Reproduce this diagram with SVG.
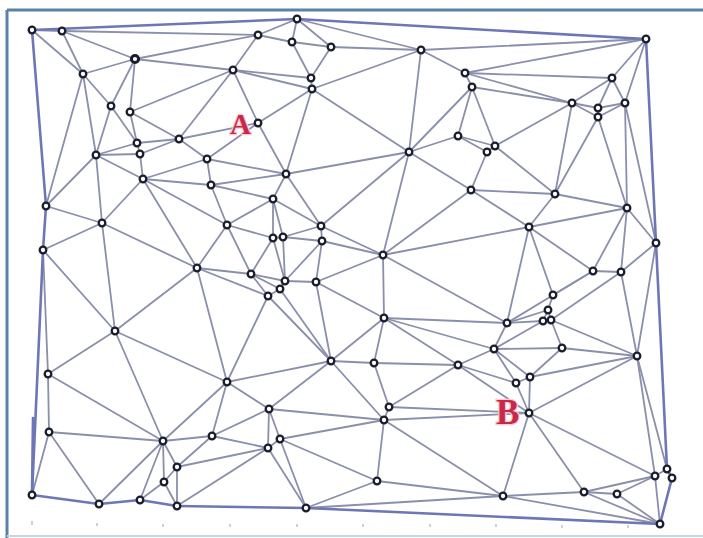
<svg xmlns="http://www.w3.org/2000/svg" width="703" height="538" viewBox="0 0 703 538">
<style>
.frame{stroke:#5b82a6;stroke-width:3;fill:none}
.framelight{stroke:#c3d6e6;stroke-width:2;fill:none}
.tick{stroke:#b0b0b8;stroke-width:1.2}
#connectors line{stroke:#8a8fab;stroke-width:1.8;stroke-linecap:round}
#border line{stroke:#6d76b6;stroke-width:2.6;stroke-linecap:round}
.node circle{fill:#ffffff;stroke:#1a1d2c;stroke-width:2.3}
.bold circle{stroke-width:3}
.lbl{font-family:"Liberation Serif","Times New Roman",serif;font-weight:bold;fill:#c8284a;stroke:#f6cdd6;stroke-width:2.5;paint-order:stroke}
</style>
<rect x="0" y="0" width="703" height="538" fill="#ffffff"/>
<g id="frame">
<line class="frame" x1="7" y1="10" x2="703" y2="10"/>
<line class="frame" x1="7" y1="10" x2="7" y2="538"/>
<line class="framelight" x1="7" y1="536" x2="703" y2="536"/>
</g>
<g id="ticks">
<line class="tick" x1="32" y1="521" x2="32" y2="525"/>
<line class="tick" x1="97" y1="523" x2="97" y2="526"/>
<line class="tick" x1="163" y1="524" x2="163" y2="527"/>
<line class="tick" x1="230" y1="524" x2="230" y2="527"/>
<line class="tick" x1="297" y1="524" x2="297" y2="527"/>
<line class="tick" x1="363" y1="524" x2="363" y2="527"/>
<line class="tick" x1="430" y1="524" x2="430" y2="527"/>
<line class="tick" x1="496" y1="524" x2="496" y2="527"/>
<line class="tick" x1="562" y1="525" x2="562" y2="528"/>
<line class="tick" x1="628" y1="525" x2="628" y2="528"/>
</g>
<g id="connectors">
<line x1="32" y1="30" x2="62" y2="31"/>
<line x1="32" y1="30" x2="83" y2="74"/>
<line x1="62" y1="31" x2="135" y2="59"/>
<line x1="62" y1="31" x2="83" y2="74"/>
<line x1="62" y1="31" x2="258" y2="35"/>
<line x1="135" y1="59" x2="83" y2="74"/>
<line x1="135" y1="59" x2="233" y2="70"/>
<line x1="135" y1="59" x2="111" y2="106"/>
<line x1="135" y1="59" x2="130" y2="112"/>
<line x1="135" y1="59" x2="258" y2="35"/>
<line x1="83" y1="74" x2="111" y2="106"/>
<line x1="83" y1="74" x2="96" y2="155"/>
<line x1="83" y1="74" x2="46" y2="206"/>
<line x1="233" y1="70" x2="130" y2="112"/>
<line x1="233" y1="70" x2="179" y2="139"/>
<line x1="233" y1="70" x2="258" y2="35"/>
<line x1="233" y1="70" x2="311" y2="78"/>
<line x1="233" y1="70" x2="312" y2="89"/>
<line x1="233" y1="70" x2="258" y2="123"/>
<line x1="111" y1="106" x2="137" y2="143"/>
<line x1="111" y1="106" x2="96" y2="155"/>
<line x1="130" y1="112" x2="179" y2="139"/>
<line x1="130" y1="112" x2="137" y2="143"/>
<line x1="179" y1="139" x2="137" y2="143"/>
<line x1="179" y1="139" x2="140" y2="154"/>
<line x1="179" y1="139" x2="207" y2="159"/>
<line x1="179" y1="139" x2="258" y2="123"/>
<line x1="137" y1="143" x2="140" y2="154"/>
<line x1="137" y1="143" x2="96" y2="155"/>
<line x1="140" y1="154" x2="96" y2="155"/>
<line x1="140" y1="154" x2="143" y2="179"/>
<line x1="96" y1="155" x2="143" y2="179"/>
<line x1="96" y1="155" x2="46" y2="206"/>
<line x1="96" y1="155" x2="102" y2="223"/>
<line x1="207" y1="159" x2="143" y2="179"/>
<line x1="207" y1="159" x2="211" y2="185"/>
<line x1="207" y1="159" x2="258" y2="123"/>
<line x1="207" y1="159" x2="286" y2="174"/>
<line x1="143" y1="179" x2="211" y2="185"/>
<line x1="143" y1="179" x2="102" y2="223"/>
<line x1="143" y1="179" x2="227" y2="225"/>
<line x1="143" y1="179" x2="197" y2="268"/>
<line x1="211" y1="185" x2="227" y2="225"/>
<line x1="211" y1="185" x2="273" y2="199"/>
<line x1="211" y1="185" x2="286" y2="174"/>
<line x1="297" y1="19" x2="258" y2="35"/>
<line x1="297" y1="19" x2="292" y2="42"/>
<line x1="297" y1="19" x2="331" y2="47"/>
<line x1="297" y1="19" x2="421" y2="50"/>
<line x1="258" y1="35" x2="292" y2="42"/>
<line x1="292" y1="42" x2="331" y2="47"/>
<line x1="292" y1="42" x2="311" y2="78"/>
<line x1="331" y1="47" x2="421" y2="50"/>
<line x1="331" y1="47" x2="311" y2="78"/>
<line x1="421" y1="50" x2="312" y2="89"/>
<line x1="421" y1="50" x2="409" y2="152"/>
<line x1="421" y1="50" x2="646" y2="39"/>
<line x1="421" y1="50" x2="465" y2="73"/>
<line x1="311" y1="78" x2="312" y2="89"/>
<line x1="312" y1="89" x2="258" y2="123"/>
<line x1="312" y1="89" x2="409" y2="152"/>
<line x1="312" y1="89" x2="286" y2="174"/>
<line x1="258" y1="123" x2="286" y2="174"/>
<line x1="458" y1="136" x2="409" y2="152"/>
<line x1="458" y1="136" x2="472" y2="87"/>
<line x1="458" y1="136" x2="495" y2="146"/>
<line x1="458" y1="136" x2="487" y2="152"/>
<line x1="409" y1="152" x2="286" y2="174"/>
<line x1="409" y1="152" x2="472" y2="87"/>
<line x1="409" y1="152" x2="471" y2="190"/>
<line x1="409" y1="152" x2="321" y2="226"/>
<line x1="409" y1="152" x2="383" y2="255"/>
<line x1="286" y1="174" x2="273" y2="199"/>
<line x1="286" y1="174" x2="321" y2="226"/>
<line x1="646" y1="39" x2="465" y2="73"/>
<line x1="646" y1="39" x2="612" y2="78"/>
<line x1="646" y1="39" x2="625" y2="103"/>
<line x1="465" y1="73" x2="472" y2="87"/>
<line x1="465" y1="73" x2="612" y2="78"/>
<line x1="465" y1="73" x2="572" y2="103"/>
<line x1="472" y1="87" x2="572" y2="103"/>
<line x1="472" y1="87" x2="495" y2="146"/>
<line x1="612" y1="78" x2="572" y2="103"/>
<line x1="612" y1="78" x2="598" y2="108"/>
<line x1="612" y1="78" x2="625" y2="103"/>
<line x1="572" y1="103" x2="598" y2="108"/>
<line x1="572" y1="103" x2="598" y2="117"/>
<line x1="572" y1="103" x2="495" y2="146"/>
<line x1="572" y1="103" x2="555" y2="194"/>
<line x1="598" y1="108" x2="598" y2="117"/>
<line x1="598" y1="108" x2="625" y2="103"/>
<line x1="598" y1="117" x2="625" y2="103"/>
<line x1="598" y1="117" x2="555" y2="194"/>
<line x1="598" y1="117" x2="627" y2="208"/>
<line x1="625" y1="103" x2="627" y2="208"/>
<line x1="625" y1="103" x2="656" y2="243"/>
<line x1="495" y1="146" x2="487" y2="152"/>
<line x1="495" y1="146" x2="555" y2="194"/>
<line x1="487" y1="152" x2="471" y2="190"/>
<line x1="46" y1="206" x2="102" y2="223"/>
<line x1="102" y1="223" x2="43" y2="250"/>
<line x1="102" y1="223" x2="197" y2="268"/>
<line x1="102" y1="223" x2="115" y2="331"/>
<line x1="227" y1="225" x2="197" y2="268"/>
<line x1="227" y1="225" x2="273" y2="199"/>
<line x1="227" y1="225" x2="273" y2="238"/>
<line x1="227" y1="225" x2="251" y2="274"/>
<line x1="43" y1="250" x2="115" y2="331"/>
<line x1="43" y1="250" x2="48" y2="374"/>
<line x1="197" y1="268" x2="115" y2="331"/>
<line x1="197" y1="268" x2="251" y2="274"/>
<line x1="197" y1="268" x2="268" y2="296"/>
<line x1="197" y1="268" x2="227" y2="382"/>
<line x1="115" y1="331" x2="48" y2="374"/>
<line x1="115" y1="331" x2="163" y2="441"/>
<line x1="115" y1="331" x2="227" y2="382"/>
<line x1="273" y1="199" x2="321" y2="226"/>
<line x1="273" y1="199" x2="273" y2="238"/>
<line x1="273" y1="199" x2="283" y2="237"/>
<line x1="471" y1="190" x2="383" y2="255"/>
<line x1="471" y1="190" x2="555" y2="194"/>
<line x1="471" y1="190" x2="529" y2="227"/>
<line x1="321" y1="226" x2="322" y2="241"/>
<line x1="321" y1="226" x2="283" y2="237"/>
<line x1="321" y1="226" x2="383" y2="255"/>
<line x1="322" y1="241" x2="283" y2="237"/>
<line x1="322" y1="241" x2="383" y2="255"/>
<line x1="322" y1="241" x2="285" y2="281"/>
<line x1="322" y1="241" x2="316" y2="282"/>
<line x1="273" y1="238" x2="283" y2="237"/>
<line x1="273" y1="238" x2="251" y2="274"/>
<line x1="273" y1="238" x2="285" y2="281"/>
<line x1="283" y1="237" x2="285" y2="281"/>
<line x1="383" y1="255" x2="316" y2="282"/>
<line x1="383" y1="255" x2="384" y2="318"/>
<line x1="383" y1="255" x2="529" y2="227"/>
<line x1="383" y1="255" x2="507" y2="323"/>
<line x1="251" y1="274" x2="285" y2="281"/>
<line x1="251" y1="274" x2="280" y2="289"/>
<line x1="251" y1="274" x2="268" y2="296"/>
<line x1="285" y1="281" x2="280" y2="289"/>
<line x1="285" y1="281" x2="316" y2="282"/>
<line x1="280" y1="289" x2="268" y2="296"/>
<line x1="280" y1="289" x2="331" y2="361"/>
<line x1="268" y1="296" x2="331" y2="361"/>
<line x1="268" y1="296" x2="227" y2="382"/>
<line x1="316" y1="282" x2="384" y2="318"/>
<line x1="316" y1="282" x2="331" y2="361"/>
<line x1="384" y1="318" x2="331" y2="361"/>
<line x1="384" y1="318" x2="374" y2="363"/>
<line x1="384" y1="318" x2="507" y2="323"/>
<line x1="384" y1="318" x2="494" y2="349"/>
<line x1="384" y1="318" x2="458" y2="365"/>
<line x1="331" y1="361" x2="374" y2="363"/>
<line x1="331" y1="361" x2="227" y2="382"/>
<line x1="331" y1="361" x2="269" y2="409"/>
<line x1="331" y1="361" x2="384" y2="420"/>
<line x1="374" y1="363" x2="458" y2="365"/>
<line x1="374" y1="363" x2="389" y2="407"/>
<line x1="555" y1="194" x2="627" y2="208"/>
<line x1="555" y1="194" x2="529" y2="227"/>
<line x1="627" y1="208" x2="529" y2="227"/>
<line x1="627" y1="208" x2="656" y2="243"/>
<line x1="627" y1="208" x2="593" y2="271"/>
<line x1="627" y1="208" x2="621" y2="272"/>
<line x1="529" y1="227" x2="593" y2="271"/>
<line x1="529" y1="227" x2="553" y2="295"/>
<line x1="529" y1="227" x2="507" y2="323"/>
<line x1="656" y1="243" x2="621" y2="272"/>
<line x1="656" y1="243" x2="637" y2="356"/>
<line x1="593" y1="271" x2="621" y2="272"/>
<line x1="593" y1="271" x2="553" y2="295"/>
<line x1="593" y1="271" x2="507" y2="323"/>
<line x1="621" y1="272" x2="551" y2="320"/>
<line x1="621" y1="272" x2="637" y2="356"/>
<line x1="553" y1="295" x2="548" y2="310"/>
<line x1="548" y1="310" x2="543" y2="321"/>
<line x1="548" y1="310" x2="551" y2="320"/>
<line x1="548" y1="310" x2="507" y2="323"/>
<line x1="543" y1="321" x2="551" y2="320"/>
<line x1="543" y1="321" x2="507" y2="323"/>
<line x1="543" y1="321" x2="494" y2="349"/>
<line x1="551" y1="320" x2="562" y2="348"/>
<line x1="551" y1="320" x2="637" y2="356"/>
<line x1="507" y1="323" x2="494" y2="349"/>
<line x1="494" y1="349" x2="562" y2="348"/>
<line x1="494" y1="349" x2="458" y2="365"/>
<line x1="494" y1="349" x2="530" y2="377"/>
<line x1="494" y1="349" x2="516" y2="383"/>
<line x1="562" y1="348" x2="637" y2="356"/>
<line x1="562" y1="348" x2="530" y2="377"/>
<line x1="637" y1="356" x2="530" y2="377"/>
<line x1="637" y1="356" x2="529" y2="413"/>
<line x1="637" y1="356" x2="667" y2="469"/>
<line x1="637" y1="356" x2="655" y2="476"/>
<line x1="48" y1="374" x2="49" y2="432"/>
<line x1="48" y1="374" x2="163" y2="441"/>
<line x1="227" y1="382" x2="163" y2="441"/>
<line x1="227" y1="382" x2="212" y2="436"/>
<line x1="227" y1="382" x2="269" y2="409"/>
<line x1="49" y1="432" x2="163" y2="441"/>
<line x1="49" y1="432" x2="32" y2="495"/>
<line x1="49" y1="432" x2="99" y2="504"/>
<line x1="163" y1="441" x2="212" y2="436"/>
<line x1="163" y1="441" x2="177" y2="467"/>
<line x1="163" y1="441" x2="164" y2="482"/>
<line x1="163" y1="441" x2="99" y2="504"/>
<line x1="163" y1="441" x2="140" y2="500"/>
<line x1="212" y1="436" x2="177" y2="467"/>
<line x1="212" y1="436" x2="269" y2="409"/>
<line x1="212" y1="436" x2="268" y2="448"/>
<line x1="177" y1="467" x2="164" y2="482"/>
<line x1="177" y1="467" x2="177" y2="506"/>
<line x1="177" y1="467" x2="268" y2="448"/>
<line x1="164" y1="482" x2="140" y2="500"/>
<line x1="164" y1="482" x2="177" y2="506"/>
<line x1="177" y1="506" x2="268" y2="448"/>
<line x1="458" y1="365" x2="389" y2="407"/>
<line x1="458" y1="365" x2="516" y2="383"/>
<line x1="458" y1="365" x2="529" y2="413"/>
<line x1="269" y1="409" x2="384" y2="420"/>
<line x1="269" y1="409" x2="280" y2="439"/>
<line x1="269" y1="409" x2="268" y2="448"/>
<line x1="389" y1="407" x2="384" y2="420"/>
<line x1="389" y1="407" x2="529" y2="413"/>
<line x1="384" y1="420" x2="280" y2="439"/>
<line x1="384" y1="420" x2="377" y2="481"/>
<line x1="384" y1="420" x2="529" y2="413"/>
<line x1="384" y1="420" x2="503" y2="496"/>
<line x1="280" y1="439" x2="268" y2="448"/>
<line x1="280" y1="439" x2="377" y2="481"/>
<line x1="280" y1="439" x2="306" y2="508"/>
<line x1="268" y1="448" x2="306" y2="508"/>
<line x1="377" y1="481" x2="306" y2="508"/>
<line x1="377" y1="481" x2="503" y2="496"/>
<line x1="306" y1="508" x2="503" y2="496"/>
<line x1="530" y1="377" x2="516" y2="383"/>
<line x1="530" y1="377" x2="529" y2="413"/>
<line x1="516" y1="383" x2="529" y2="413"/>
<line x1="529" y1="413" x2="655" y2="476"/>
<line x1="529" y1="413" x2="503" y2="496"/>
<line x1="529" y1="413" x2="584" y2="492"/>
<line x1="667" y1="469" x2="655" y2="476"/>
<line x1="655" y1="476" x2="584" y2="492"/>
<line x1="655" y1="476" x2="617" y2="494"/>
<line x1="655" y1="476" x2="660" y2="524"/>
<line x1="503" y1="496" x2="584" y2="492"/>
<line x1="503" y1="496" x2="660" y2="524"/>
<line x1="584" y1="492" x2="617" y2="494"/>
<line x1="584" y1="492" x2="660" y2="524"/>
<line x1="617" y1="494" x2="660" y2="524"/>
</g>
<g id="border">
<line x1="32" y1="30" x2="297" y2="19"/>
<line x1="297" y1="19" x2="646" y2="39"/>
<line x1="646" y1="39" x2="656" y2="243"/>
<line x1="656" y1="243" x2="667" y2="469"/>
<line x1="667" y1="469" x2="672" y2="478"/>
<line x1="672" y1="478" x2="660" y2="524"/>
<line x1="660" y1="524" x2="306" y2="508"/>
<line x1="306" y1="508" x2="177" y2="506"/>
<line x1="177" y1="506" x2="140" y2="500"/>
<line x1="140" y1="500" x2="99" y2="504"/>
<line x1="99" y1="504" x2="32" y2="495"/>
<line x1="32" y1="495" x2="43" y2="250"/>
<line x1="43" y1="250" x2="46" y2="206"/>
<line x1="46" y1="206" x2="32" y2="30"/>
<line x1="33" y1="418" x2="32" y2="495"/>
</g>
<g id="nodes">
<g id="a1" class="node"><circle cx="32" cy="30" r="3.3"/></g>
<g id="a2" class="node"><circle cx="62" cy="31" r="3.3"/></g>
<g id="a3" class="node bold"><circle cx="135" cy="59" r="3.6"/></g>
<g id="a4" class="node"><circle cx="83" cy="74" r="3.3"/></g>
<g id="a5" class="node"><circle cx="233" cy="70" r="3.3"/></g>
<g id="a6" class="node"><circle cx="111" cy="106" r="3.3"/></g>
<g id="a7" class="node"><circle cx="130" cy="112" r="3.3"/></g>
<g id="a8" class="node"><circle cx="179" cy="139" r="3.3"/></g>
<g id="a9" class="node"><circle cx="137" cy="143" r="3.3"/></g>
<g id="a10" class="node"><circle cx="140" cy="154" r="3.3"/></g>
<g id="a11" class="node"><circle cx="96" cy="155" r="3.3"/></g>
<g id="a12" class="node"><circle cx="207" cy="159" r="3.3"/></g>
<g id="a13" class="node"><circle cx="143" cy="179" r="3.3"/></g>
<g id="a14" class="node"><circle cx="211" cy="185" r="3.3"/></g>
<g id="b1" class="node"><circle cx="297" cy="19" r="3.3"/></g>
<g id="b2" class="node"><circle cx="258" cy="35" r="3.3"/></g>
<g id="b3" class="node"><circle cx="292" cy="42" r="3.3"/></g>
<g id="b4" class="node"><circle cx="331" cy="47" r="3.3"/></g>
<g id="b5" class="node"><circle cx="421" cy="50" r="3.3"/></g>
<g id="b7" class="node"><circle cx="311" cy="78" r="3.3"/></g>
<g id="b8" class="node"><circle cx="312" cy="89" r="3.3"/></g>
<g id="b9" class="node"><circle cx="258" cy="123" r="3.3"/></g>
<g id="b10" class="node"><circle cx="458" cy="136" r="3.3"/></g>
<g id="b11" class="node"><circle cx="409" cy="152" r="3.3"/></g>
<g id="b12" class="node"><circle cx="286" cy="174" r="3.3"/></g>
<g id="c1" class="node"><circle cx="646" cy="39" r="3.3"/></g>
<g id="c2" class="node"><circle cx="465" cy="73" r="3.3"/></g>
<g id="c3" class="node"><circle cx="472" cy="87" r="3.3"/></g>
<g id="c4" class="node"><circle cx="612" cy="78" r="3.3"/></g>
<g id="c5" class="node"><circle cx="572" cy="103" r="3.3"/></g>
<g id="c6" class="node"><circle cx="598" cy="108" r="3.3"/></g>
<g id="c7" class="node"><circle cx="598" cy="117" r="3.3"/></g>
<g id="c8" class="node"><circle cx="625" cy="103" r="3.3"/></g>
<g id="c9" class="node"><circle cx="495" cy="146" r="3.3"/></g>
<g id="c10" class="node"><circle cx="487" cy="152" r="3.3"/></g>
<g id="d1" class="node"><circle cx="46" cy="206" r="3.3"/></g>
<g id="d2" class="node"><circle cx="102" cy="223" r="3.3"/></g>
<g id="d3" class="node"><circle cx="227" cy="225" r="3.3"/></g>
<g id="d4" class="node"><circle cx="43" cy="250" r="3.3"/></g>
<g id="d5" class="node"><circle cx="197" cy="268" r="3.3"/></g>
<g id="d6" class="node"><circle cx="115" cy="331" r="3.3"/></g>
<g id="e1" class="node"><circle cx="273" cy="199" r="3.3"/></g>
<g id="e2" class="node"><circle cx="471" cy="190" r="3.3"/></g>
<g id="e3" class="node"><circle cx="321" cy="226" r="3.3"/></g>
<g id="e4" class="node"><circle cx="322" cy="241" r="3.3"/></g>
<g id="e5" class="node"><circle cx="273" cy="238" r="3.3"/></g>
<g id="e6" class="node"><circle cx="283" cy="237" r="3.3"/></g>
<g id="e7" class="node"><circle cx="383" cy="255" r="3.3"/></g>
<g id="e8" class="node"><circle cx="251" cy="274" r="3.3"/></g>
<g id="e9" class="node"><circle cx="285" cy="281" r="3.3"/></g>
<g id="e10" class="node"><circle cx="280" cy="289" r="3.3"/></g>
<g id="e11" class="node"><circle cx="268" cy="296" r="3.3"/></g>
<g id="e12" class="node"><circle cx="316" cy="282" r="3.3"/></g>
<g id="e13" class="node"><circle cx="384" cy="318" r="3.3"/></g>
<g id="e14" class="node"><circle cx="331" cy="361" r="3.3"/></g>
<g id="e15" class="node"><circle cx="374" cy="363" r="3.3"/></g>
<g id="f1" class="node"><circle cx="555" cy="194" r="3.3"/></g>
<g id="f2" class="node"><circle cx="627" cy="208" r="3.3"/></g>
<g id="f3" class="node"><circle cx="529" cy="227" r="3.3"/></g>
<g id="f4" class="node"><circle cx="656" cy="243" r="3.3"/></g>
<g id="f5" class="node"><circle cx="593" cy="271" r="3.3"/></g>
<g id="f6" class="node"><circle cx="621" cy="272" r="3.3"/></g>
<g id="f7" class="node"><circle cx="553" cy="295" r="3.3"/></g>
<g id="f8" class="node"><circle cx="548" cy="310" r="3.3"/></g>
<g id="f9" class="node"><circle cx="543" cy="321" r="3.3"/></g>
<g id="f10" class="node"><circle cx="551" cy="320" r="3.3"/></g>
<g id="f11" class="node"><circle cx="507" cy="323" r="3.3"/></g>
<g id="f12" class="node"><circle cx="494" cy="349" r="3.3"/></g>
<g id="f13" class="node"><circle cx="562" cy="348" r="3.3"/></g>
<g id="f14" class="node"><circle cx="637" cy="356" r="3.3"/></g>
<g id="g1" class="node"><circle cx="48" cy="374" r="3.3"/></g>
<g id="g2" class="node"><circle cx="227" cy="382" r="3.3"/></g>
<g id="g3" class="node"><circle cx="49" cy="432" r="3.3"/></g>
<g id="g4" class="node"><circle cx="163" cy="441" r="3.3"/></g>
<g id="g5" class="node"><circle cx="212" cy="436" r="3.3"/></g>
<g id="g6" class="node"><circle cx="177" cy="467" r="3.3"/></g>
<g id="g7" class="node"><circle cx="164" cy="482" r="3.3"/></g>
<g id="g8" class="node"><circle cx="32" cy="495" r="3.3"/></g>
<g id="g9" class="node"><circle cx="99" cy="504" r="3.3"/></g>
<g id="g10" class="node"><circle cx="140" cy="500" r="3.3"/></g>
<g id="g11" class="node"><circle cx="177" cy="506" r="3.3"/></g>
<g id="h1" class="node"><circle cx="458" cy="365" r="3.3"/></g>
<g id="h2" class="node"><circle cx="269" cy="409" r="3.3"/></g>
<g id="h3" class="node"><circle cx="389" cy="407" r="3.3"/></g>
<g id="h4" class="node"><circle cx="384" cy="420" r="3.3"/></g>
<g id="h5" class="node"><circle cx="280" cy="439" r="3.3"/></g>
<g id="h6" class="node"><circle cx="268" cy="448" r="3.3"/></g>
<g id="h7" class="node"><circle cx="377" cy="481" r="3.3"/></g>
<g id="h8" class="node"><circle cx="306" cy="508" r="3.3"/></g>
<g id="i1" class="node"><circle cx="530" cy="377" r="3.3"/></g>
<g id="i2" class="node"><circle cx="516" cy="383" r="3.3"/></g>
<g id="i3" class="node"><circle cx="529" cy="413" r="3.3"/></g>
<g id="i4" class="node"><circle cx="667" cy="469" r="3.3"/></g>
<g id="i5" class="node"><circle cx="672" cy="478" r="3.3"/></g>
<g id="i6" class="node"><circle cx="655" cy="476" r="3.3"/></g>
<g id="i7" class="node"><circle cx="503" cy="496" r="3.3"/></g>
<g id="i8" class="node"><circle cx="584" cy="492" r="3.3"/></g>
<g id="i9" class="node"><circle cx="617" cy="494" r="3.3"/></g>
<g id="i10" class="node"><circle cx="660" cy="524" r="3.3"/></g>
</g>
<g id="labels">
<text class="lbl" x="230" y="134" font-size="29">A</text>
<text class="lbl" x="496" y="424" font-size="35">B</text>
</g>
</svg>
